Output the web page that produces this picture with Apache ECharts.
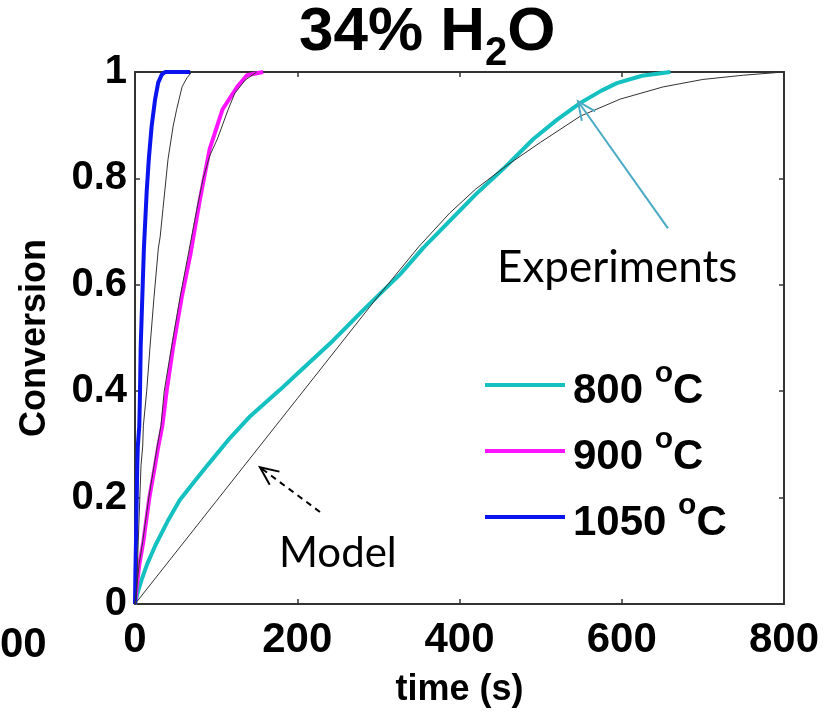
<!DOCTYPE html>
<html>
<head>
<meta charset="utf-8">
<script src="https://cdn.jsdelivr.net/npm/echarts@6/dist/echarts.min.js"></script>
<style>
  html, body { margin: 0; padding: 0; background: #fff; }
  #chart { width: 839px; height: 713px; }
</style>
</head>
<body>
<div id="chart"></div>
<script>
// 实验数据 [time(s), conversion]
const exp800 = [[0,0],[3,0.02],[8,0.045],[15,0.075],[25,0.11],[40,0.155],[55,0.195],[72,0.228],[90,0.262],[117,0.312],[142,0.353],[179,0.403],[203,0.437],[244,0.495],[281,0.552],[327,0.62],[355,0.669],[388,0.72],[420,0.77],[454,0.818],[491,0.874],[520,0.91],[549,0.942],[575,0.965],[594,0.979],[625,0.993],[660,1.0]]
const exp900 = [[0,0],[2,0.03],[5.3,0.074],[10.3,0.117],[17.7,0.2],[24.7,0.26],[28.8,0.297],[33.7,0.335],[39,0.4],[47,0.483],[57.5,0.576],[68,0.655],[80,0.76],[92,0.855],[108,0.93],[126,0.972],[138,0.994],[158,1.0]]
const exp1050 = [[0,0],[0.5,0.06],[1.2,0.117],[2.8,0.26],[3.5,0.297],[5.3,0.335],[6.2,0.4],[7,0.483],[9.5,0.6],[11,0.669],[14.4,0.775],[17,0.836],[20.5,0.898],[24.7,0.948],[28.6,0.98],[33,0.995],[37,1.0],[68,1.0]]

// 模型曲线
const model800 = [[0,0],[100,0.193],[200,0.386],[300,0.579],[350,0.672],[388,0.735],[420,0.78],[458,0.824],[500,0.868],[549,0.917],[598,0.949],[651,0.972],[700,0.986],[750,0.994],[800,1.0]]
const model900 = [[0,0],[2,0.03],[5,0.074],[9.5,0.117],[17,0.2],[23.5,0.26],[27.5,0.297],[32,0.335],[36,0.4],[45,0.483],[55.5,0.576],[66,0.66],[76,0.74],[84,0.8],[92,0.842],[101.5,0.874],[115,0.93],[123,0.96],[136,0.985],[150,1.0]]
const model1050 = [[0,0],[2,0.024],[4,0.117],[7.4,0.26],[9.5,0.297],[10.3,0.335],[14.4,0.4],[18.5,0.483],[23.4,0.576],[28.8,0.669],[31,0.69],[34.5,0.743],[40.7,0.836],[47,0.898],[51.4,0.93],[58,0.972],[64,0.989],[70,1.0]]

const legendNames = ['800', '900', '1050']
const xTicks = { min: 0, max: 800, interval: 200 }
const yTicks = { min: 0, max: 1, interval: 0.2 }

// 标注箭头 [tail, tip]
const arrowExp = [[657, 0.706], [546, 0.945]]
const arrowModel = [[228, 0.173], [154, 0.257]]

const chart = echarts.init(document.getElementById('chart'))

const labelFont = { fontFamily: 'Liberation Sans, Arial, sans-serif', fontWeight: 'bold', color: '#000' }
const frameLine = { show: true, onZero: false, lineStyle: { color: '#333', width: 2 } }
const tick = { show: true, inside: true, length: 5, lineStyle: { color: '#333', width: 1.5 } }

function makeLegend(name, top) {
  return {
    data: [name],
    left: 485,
    top: top,
    orient: 'vertical',
    icon: 'rect',
    itemWidth: 80,
    itemHeight: 4,
    selectedMode: false,
    padding: 0,
    formatter: n => n + ' {sup|o}C',
    textStyle: {
      fontFamily: 'Liberation Sans, Arial, sans-serif',
      fontWeight: 'bold',
      fontSize: 42,
      lineHeight: 64,
      color: '#000',
      padding: [12, 0, 0, 3],
      rich: {
        sup: { fontFamily: 'Liberation Sans, Arial, sans-serif', fontSize: 30, lineHeight: 16, verticalAlign: 'top', color: '#000' }
      }
    }
  }
}

function expSeries(name, data, color) {
  return { name: name, type: 'line', data: data, symbol: 'none', showSymbol: false, lineStyle: { color: color, width: 4 }, itemStyle: { color: color }, z: 2, animation: false }
}
function modelSeries(name, data) {
  return { name: name, type: 'line', data: data, symbol: 'none', showSymbol: false, lineStyle: { color: '#333', width: 1 }, itemStyle: { color: '#333' }, z: 3, animation: false }
}

chart.setOption({
  backgroundColor: '#fff',
  animation: false,
  title: {
    text: '34% H{sub|2}O',
    left: 299,
    top: 2,
    padding: 0,
    textStyle: {
      fontFamily: 'Liberation Sans, Arial, sans-serif',
      fontWeight: 'bold',
      fontSize: 62,
      lineHeight: 62,
      verticalAlign: 'top',
      color: '#000',
      rich: {
        sub: { fontFamily: 'Liberation Sans, Arial, sans-serif', fontWeight: 'bold', fontSize: 40, lineHeight: 40, padding: [32, 0, 0, 0], verticalAlign: 'top', color: '#000' }
      }
    }
  },
  legend: [makeLegend(legendNames[0], 347), makeLegend(legendNames[1], 413), makeLegend(legendNames[2], 479)],
  grid: { left: 135, right: 55, top: 72, bottom: 103 },
  xAxis: [{
    type: 'value', min: xTicks.min, max: xTicks.max, interval: xTicks.interval,
    name: 'time (s)', nameLocation: 'middle', nameGap: 68,
    nameTextStyle: Object.assign({ fontSize: 36 }, labelFont),
    axisLine: frameLine, axisTick: tick, splitLine: { show: false },
    axisLabel: Object.assign({ fontSize: 42, margin: 15 }, labelFont)
  }, {
    type: 'value', position: 'top', min: xTicks.min, max: xTicks.max, interval: xTicks.interval,
    axisLine: frameLine, axisTick: tick, splitLine: { show: false }, axisLabel: { show: false }
  }],
  yAxis: [{
    type: 'value', min: yTicks.min, max: yTicks.max, interval: yTicks.interval,
    name: 'Conversion', nameLocation: 'middle', nameGap: 82, nameRotate: 90,
    nameTextStyle: Object.assign({ fontSize: 36 }, labelFont),
    axisLine: frameLine, axisTick: tick, splitLine: { show: false },
    axisLabel: Object.assign({ fontSize: 40, margin: 8 }, labelFont)
  }, {
    type: 'value', position: 'right', min: yTicks.min, max: yTicks.max, interval: yTicks.interval,
    axisLine: frameLine, axisTick: tick, splitLine: { show: false }, axisLabel: { show: false }
  }],
  series: [
    expSeries('800', exp800, '#14c0c0'),
    expSeries('900', exp900, '#ff14ff'),
    expSeries('1050', exp1050, '#0a14ee'),
    modelSeries('model800', model800),
    modelSeries('model900', model900),
    modelSeries('model1050', model1050)
  ]
})

// 箭头和文字标注
function arrow(pair, color, dashed) {
  const a = chart.convertToPixel({ xAxisIndex: 0, yAxisIndex: 0 }, pair[0])
  const b = chart.convertToPixel({ xAxisIndex: 0, yAxisIndex: 0 }, pair[1])
  const ang = Math.atan2(a[1] - b[1], a[0] - b[0])
  const len = 20, spread = 0.42
  const arm1 = [b[0] + len * Math.cos(ang + spread), b[1] + len * Math.sin(ang + spread)]
  const arm2 = [b[0] + len * Math.cos(ang - spread), b[1] + len * Math.sin(ang - spread)]
  return [
    { type: 'line', shape: { x1: a[0], y1: a[1], x2: b[0], y2: b[1] }, style: { stroke: color, lineWidth: 2, lineDash: dashed ? [6, 5] : null }, z: 10 },
    { type: 'polyline', shape: { points: [arm1, b, arm2] }, style: { stroke: color, lineWidth: 2, fill: null }, z: 10 }
  ]
}

chart.setOption({
  graphic: [
    { type: 'text', x: 0, y: 645, style: { text: '00', font: 'bold 42px "Liberation Sans", Arial, sans-serif', fill: '#000', textVerticalAlign: 'middle' } },
    { type: 'text', x: 497, y: 268, style: { text: 'Experiments', font: '44px Lato, "Open Sans", sans-serif', fill: '#000', textVerticalAlign: 'middle' }, z: 10 },
    { type: 'text', x: 279, y: 553, style: { text: 'Model', font: '42px Lato, "Open Sans", sans-serif', fill: '#000', textVerticalAlign: 'middle' }, z: 10 }
  ].concat(arrow(arrowExp, '#4aaac4', false), arrow(arrowModel, '#000', true))
})
</script>
</body>
</html>
